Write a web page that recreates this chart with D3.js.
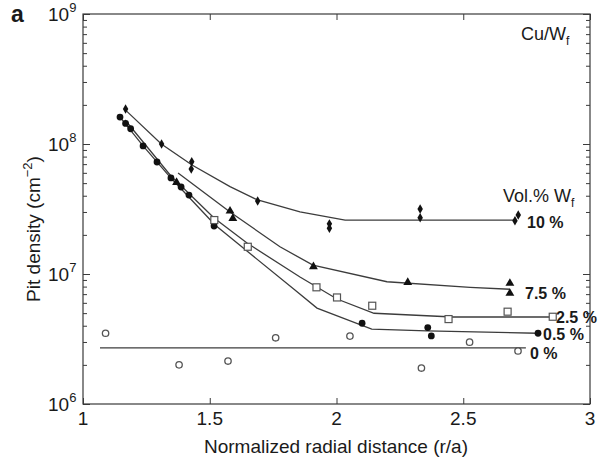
<!DOCTYPE html>
<html>
<head>
<meta charset="utf-8">
<script src="https://cdn.jsdelivr.net/npm/d3@7"></script>
<style>
  body { margin: 0; background: #fff; }
  text { font-family: "Liberation Sans", Arial, sans-serif; fill: #1a1a1a; }
</style>
</head>
<body>
<div id="chart"></div>
<script>
// measured points, [r/a, pit density]
const pts0 = [[1.089, 3.5e6], [1.379, 2.0e6], [1.572, 2.14e6], [1.760, 3.23e6], [2.053, 3.33e6], [2.335, 1.89e6], [2.525, 2.99e6], [2.716, 2.56e6]]
const pts05 = [[1.146, 1.61e8], [1.168, 1.44e8], [1.188, 1.31e8], [1.237, 9.66e7], [1.292, 7.27e7], [1.347, 5.48e7], [1.387, 4.67e7], [1.418, 4.05e7], [1.517, 2.34e7], [2.101, 4.18e6], [2.360, 3.87e6], [2.374, 3.34e6], [2.795, 3.5e6]]
const pts25 = [[1.518, 2.6e7], [1.650, 1.62e7], [1.921, 7.9e6], [2.002, 6.6e6], [2.141, 5.7e6], [2.442, 4.5e6], [2.675, 5.13e6], [2.853, 4.69e6]]
const pts75 = [[1.369, 5.07e7], [1.580, 3.05e7], [1.591, 2.68e7], [1.909, 1.14e7], [2.281, 8.63e6], [2.684, 8.48e6], [2.684, 7.11e6]]
const pts10 = [[1.168, 1.86e8], [1.310, 1.0e8], [1.429, 7.31e7], [1.427, 6.42e7], [1.689, 3.65e7], [1.972, 2.43e7], [1.972, 2.25e7], [2.330, 3.16e7], [2.330, 2.71e7], [2.717, 2.84e7], [2.704, 2.57e7]]

// fitted curves
const fit0 = [[1.067, 2.7e6], [2.747, 2.7e6]]
const fit05 = [[1.146, 1.61e8], [1.237, 9.66e7], [1.347, 5.47e7], [1.521, 2.38e7], [1.836, 7.53e6], [1.923, 5.47e6], [2.139, 3.76e6], [2.356, 3.65e6], [2.793, 3.5e6]]
const fit25 = [[1.166, 1.53e8], [1.347, 5.67e7], [1.517, 2.7e7], [1.647, 1.73e7], [1.856, 9.48e6], [2.002, 6.42e6], [2.148, 4.99e6], [2.46, 4.67e6], [2.85, 4.67e6]]
const fit75 = [[1.375, 5.98e7], [1.58, 3.0e7], [1.777, 1.62e7], [1.907, 1.17e7], [2.199, 8.72e6], [2.527, 7.9e6], [2.684, 7.63e6]]
const fit10 = [[1.172, 1.79e8], [1.309, 1.0e8], [1.43, 6.89e7], [1.58, 4.7e7], [1.689, 3.71e7], [1.856, 3.01e7], [2.034, 2.6e7], [2.704, 2.6e7]]

const xTicks = [1, 1.5, 2, 2.5, 3]
const yDecades = [6, 7, 8, 9]
const seriesLabels = ['10 %', '7.5 %', '2.5 %', '0.5 %', '0 %']

const width = 601
const height = 462

const svg = d3.select('#chart')
  .append('svg')
  .attr('width', width)
  .attr('height', height)

const x = d3.scaleLinear().domain([1, 3]).range([83, 590])
const y = d3.scaleLog().domain([1e6, 1e9]).range([404, 14])

const frame = '#3a3a3a'

// minor + major ticks on left/right
const minorVals = []
for (let e = 6; e < 9; e++) {
  for (let k = 2; k <= 9; k++) minorVals.push(k * Math.pow(10, e))
}
const majorVals = yDecades.map(e => Math.pow(10, e))

function tickAxis(axis, tx, ty, vals, size) {
  const g = svg.append('g').attr('transform', `translate(${tx},${ty})`)
    .call(axis.tickValues(vals).tickSize(size).tickFormat(''))
  g.select('.domain').remove()
  return g
}
tickAxis(d3.axisRight(y), x(1), 0, minorVals, 4)
tickAxis(d3.axisRight(y), x(1), 0, majorVals, 7)
tickAxis(d3.axisLeft(y), x(3), 0, minorVals, 4)
tickAxis(d3.axisLeft(y), x(3), 0, majorVals, 7)
tickAxis(d3.axisTop(x), 0, y(1e6), xTicks, 6)
tickAxis(d3.axisBottom(x), 0, y(1e9), xTicks, 6)

svg.selectAll('.tick line').attr('stroke', frame)

svg.append('rect')
  .attr('x', x(1)).attr('y', y(1e9))
  .attr('width', x(3) - x(1)).attr('height', y(1e6) - y(1e9))
  .attr('fill', 'none').attr('stroke', frame).attr('stroke-width', 1.2)

// tick labels
svg.append('g').selectAll('text')
  .data(xTicks)
  .join('text')
  .attr('x', d => x(d))
  .attr('y', 425)
  .attr('text-anchor', 'middle')
  .attr('font-size', 19)
  .text(d => d)

const yLab = svg.append('g').selectAll('text')
  .data(yDecades)
  .join('text')
  .attr('x', 48)
  .attr('y', d => y(Math.pow(10, d)) + 7)
  .attr('font-size', 19)
yLab.append('tspan').text('10')
yLab.append('tspan').attr('dy', -9).attr('font-size', 13).text(d => d)

// axis titles
svg.append('text')
  .attr('x', 336)
  .attr('y', 453)
  .attr('text-anchor', 'middle')
  .attr('font-size', 19)
  .text('Normalized radial distance (r/a)')

const yt = svg.append('text')
  .attr('transform', 'translate(40,229) rotate(-90)')
  .attr('text-anchor', 'middle')
  .attr('font-size', 19)
yt.append('tspan').text('Pit density (cm')
yt.append('tspan').attr('dy', -8).attr('font-size', 13).text('\u22122')
yt.append('tspan').attr('dy', 8).text(')')

svg.append('text')
  .attr('x', 11).attr('y', 22)
  .attr('font-size', 23).attr('font-weight', 'bold')
  .text('a')

const cu = svg.append('text').attr('x', 521).attr('y', 40).attr('font-size', 18)
cu.append('tspan').text('Cu/W')
cu.append('tspan').attr('dy', 5).attr('font-size', 12).text('f')

const vol = svg.append('text').attr('x', 503).attr('y', 202).attr('font-size', 18)
vol.append('tspan').text('Vol.% W')
vol.append('tspan').attr('dy', 5).attr('font-size', 12).text('f')

// curves
const line = d3.line().x(d => x(d[0])).y(d => y(d[1]))
const lineColor = '#3c3c3c'
const fits = [fit10, fit75, fit25, fit05, fit0]
svg.append('g').selectAll('path')
  .data(fits)
  .join('path')
  .attr('d', line)
  .attr('fill', 'none')
  .attr('stroke', lineColor)
  .attr('stroke-width', 1.3)

// markers
const marks = svg.append('g')
marks.selectAll('.c0').data(pts0).join('circle')
  .attr('cx', d => x(d[0])).attr('cy', d => y(d[1])).attr('r', 3.2)
  .attr('fill', '#fff').attr('stroke', '#555').attr('stroke-width', 1.3)
marks.selectAll('.c05').data(pts05).join('circle')
  .attr('cx', d => x(d[0])).attr('cy', d => y(d[1])).attr('r', 3.4)
  .attr('fill', '#111')
marks.selectAll('.s25').data(pts25).join('rect')
  .attr('x', d => x(d[0]) - 3.5).attr('y', d => y(d[1]) - 3.5)
  .attr('width', 7).attr('height', 7)
  .attr('fill', '#fff').attr('stroke', '#555').attr('stroke-width', 1.2)
marks.selectAll('.t75').data(pts75).join('path')
  .attr('transform', d => `translate(${x(d[0])},${y(d[1])})`)
  .attr('d', d3.symbol(d3.symbolTriangle, 34))
  .attr('fill', '#111')
marks.selectAll('.d10').data(pts10).join('path')
  .attr('transform', d => `translate(${x(d[0])},${y(d[1])})`)
  .attr('d', d3.symbol(d3.symbolDiamond, 26))
  .attr('fill', '#111')

// series labels
const labelPos = [[527, 228], [525, 299], [556, 323], [543, 340], [530, 359]]
svg.append('g').selectAll('text')
  .data(seriesLabels)
  .join('text')
  .attr('x', (d, i) => labelPos[i][0])
  .attr('y', (d, i) => labelPos[i][1])
  .attr('font-size', 16)
  .attr('font-weight', 'bold')
  .text(d => d)
</script>
</body>
</html>
